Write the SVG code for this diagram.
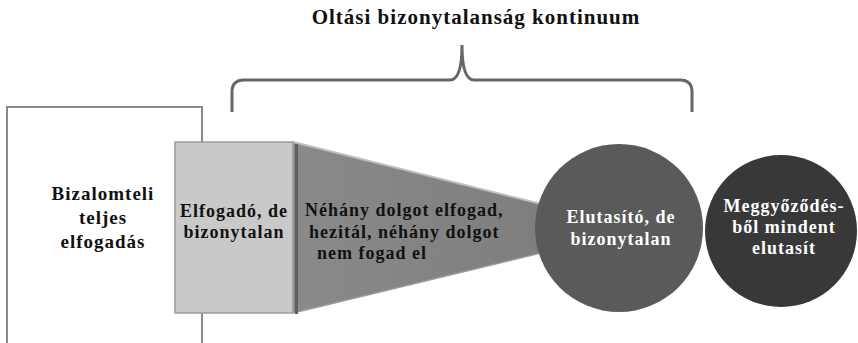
<svg xmlns="http://www.w3.org/2000/svg" width="858" height="343" viewBox="0 0 858 343">
<style>
text{font-family:'Liberation Serif','DejaVu Serif',serif;font-weight:bold;font-size:18px;letter-spacing:1px;fill:#111}
text.title{font-size:21px;letter-spacing:1px}
text.big{font-size:19px}
.w{fill:#fff}
</style>
<defs>
<linearGradient id="trap" x1="0" y1="0" x2="1" y2="0">
<stop offset="0" stop-color="#8a8a8a"/>
<stop offset="1" stop-color="#7e7e7e"/>
</linearGradient>
</defs>
<rect width="858" height="343" fill="#fff"/>
<text class="title" x="476" y="24" text-anchor="middle">Oltási bizonytalanság kontinuum</text>
<g id="connectors">
<path d="M232,112 V92 Q232,80 244,80 H450 Q462,80 462,45 Q462,80 474,80 H680 Q692,80 692,92 V112" fill="none" stroke="#666" stroke-width="3"/>
</g>
<g id="node-full">
<rect x="7" y="107" width="195" height="245" fill="#fff" stroke="#8a8a8a" stroke-width="2"/>
<text class="big" text-anchor="middle"><tspan x="103" y="200">Bizalomteli</tspan><tspan x="103" y="224">teljes</tspan><tspan x="103" y="248">elfogadás</tspan></text>
</g>
<g id="node-trap">
<polygon points="293,142 545,205 545,252 293,313" fill="url(#trap)"/>
<polyline points="293,142 545,205" fill="none" stroke="#bdbdbd" stroke-width="2"/>
<polyline points="293,313 545,252" fill="none" stroke="#9a9a9a" stroke-width="1.5"/>
<text><tspan x="305" y="216">Néhány dolgot elfogad,</tspan><tspan x="309" y="238">hezitál, néhány dolgot</tspan><tspan x="317" y="259">nem fogad el</tspan></text>
</g>
<g id="node-accept">
<rect x="295" y="144" width="3" height="170" fill="#5e5e5e"/>
<rect x="175" y="142" width="118" height="171" fill="#c9c9c9" stroke="#9a9a9a" stroke-width="1.5"/>
<text text-anchor="middle"><tspan x="234" y="217">Elfogadó, de</tspan><tspan x="234" y="238">bizonytalan</tspan></text>
</g>
<g id="node-reject">
<circle cx="619" cy="228" r="84" fill="#5a5a5a"/>
<text class="w" text-anchor="middle"><tspan x="621" y="223">Elutasító, de</tspan><tspan x="621" y="245">bizonytalan</tspan></text>
</g>
<g id="node-full-reject">
<circle cx="781" cy="231" r="76" fill="#383838"/>
<text class="w" text-anchor="middle"><tspan x="784" y="212">Meggyőződés-</tspan><tspan x="784" y="233">ből mindent</tspan><tspan x="784" y="254">elutasít</tspan></text>
</g>
</svg>
